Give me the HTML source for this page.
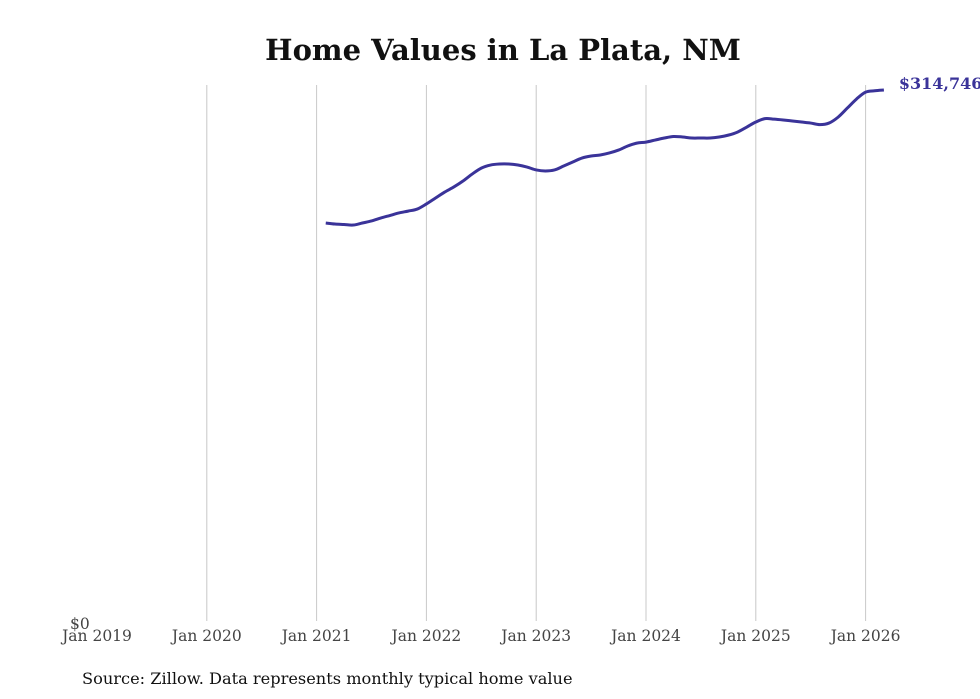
<!DOCTYPE html>
<html><head><meta charset="utf-8"><style>
body{margin:0;background:#fff;width:980px;height:699px;overflow:hidden}
svg{display:block;font-family:"DejaVu Serif","Liberation Serif",serif}
</style></head><body>
<svg id="chart" width="980" height="699">
<text x="503" y="60" text-anchor="middle" font-size="29" font-weight="bold" fill="#111">Home Values in La Plata, NM</text>
<g id="grid"></g>
<g id="xticks"></g>
<text x="70" y="629" font-size="15.5" fill="#444">$0</text>
<path id="line" fill="none" stroke="#3a3399" stroke-width="3" stroke-linejoin="round"></path>
<text id="endlabel" font-size="16" font-weight="bold" fill="#3a3399"></text>
<text x="82" y="684" font-size="16.2" fill="#111">Source: Zillow. Data represents monthly typical home value</text>
</svg>
<script>
const tickLabels=["Jan 2019","Jan 2020","Jan 2021","Jan 2022","Jan 2023","Jan 2024","Jan 2025","Jan 2026"];
const startMonth=25; // months since Jan 2019 (Feb 2021)
const values=[236.5,235.9,235.6,235.3,236.5,237.7,239.4,240.9,242.4,243.5,244.7,247.7,251.2,254.7,257.7,261.2,265.3,268.8,270.6,271.2,271.2,270.6,269.4,267.7,267.1,267.7,270.0,272.4,274.7,275.9,276.5,277.7,279.4,281.8,283.5,284.1,285.3,286.5,287.4,287.1,286.5,286.5,286.5,287.1,288.2,290.0,292.9,295.9,297.9,297.6,297.1,296.5,295.9,295.3,294.4,295.3,298.8,304.1,309.4,313.5,314.3,314.746];
const x0=97,pxPerMonth=109.8/12,yZero=625,pxPerK=535/314.746;
const X=m=>x0+m*pxPerMonth, Y=v=>yZero-v*pxPerK;
const grid=document.getElementById('grid'),xt=document.getElementById('xticks');
const NS="http://www.w3.org/2000/svg";
tickLabels.forEach((t,i)=>{
  const x=X(i*12);
  if(i>0){const l=document.createElementNS(NS,'line');
    l.setAttribute('x1',x);l.setAttribute('x2',x);l.setAttribute('y1',85);l.setAttribute('y2',621);
    l.setAttribute('stroke','#c8c8c8');l.setAttribute('stroke-width','1');
    
    
    grid.appendChild(l);}
  const tx=document.createElementNS(NS,'text');
  tx.setAttribute('x',x);tx.setAttribute('y',641);tx.setAttribute('text-anchor','middle');
  tx.setAttribute('font-size','15.5');tx.setAttribute('fill','#444');tx.textContent=t;
  
  
  xt.appendChild(tx);
});
const pts=values.map((v,i)=>[X(startMonth+i),Y(v)]);
let d="M"+pts[0][0]+","+pts[0][1];
for(let i=1;i<pts.length;i++){
  const p0=pts[i-2]||pts[i-1],p1=pts[i-1],p2=pts[i],p3=pts[i+1]||p2;
  const c1=[p1[0]+(p2[0]-p0[0])/6,p1[1]+(p2[1]-p0[1])/6],c2=[p2[0]-(p3[0]-p1[0])/6,p2[1]-(p3[1]-p1[1])/6];
  d+=` C${c1[0]},${c1[1]} ${c2[0]},${c2[1]} ${p2[0]},${p2[1]}`;
}
document.getElementById('line').setAttribute('d',d);
const last=pts[pts.length-1],el=document.getElementById('endlabel');
el.setAttribute('x',last[0]+15);el.setAttribute('y',last[1]-1);
el.textContent="$"+Math.round(values[values.length-1]*1000).toLocaleString('en-US');
</script>
</body></html>
